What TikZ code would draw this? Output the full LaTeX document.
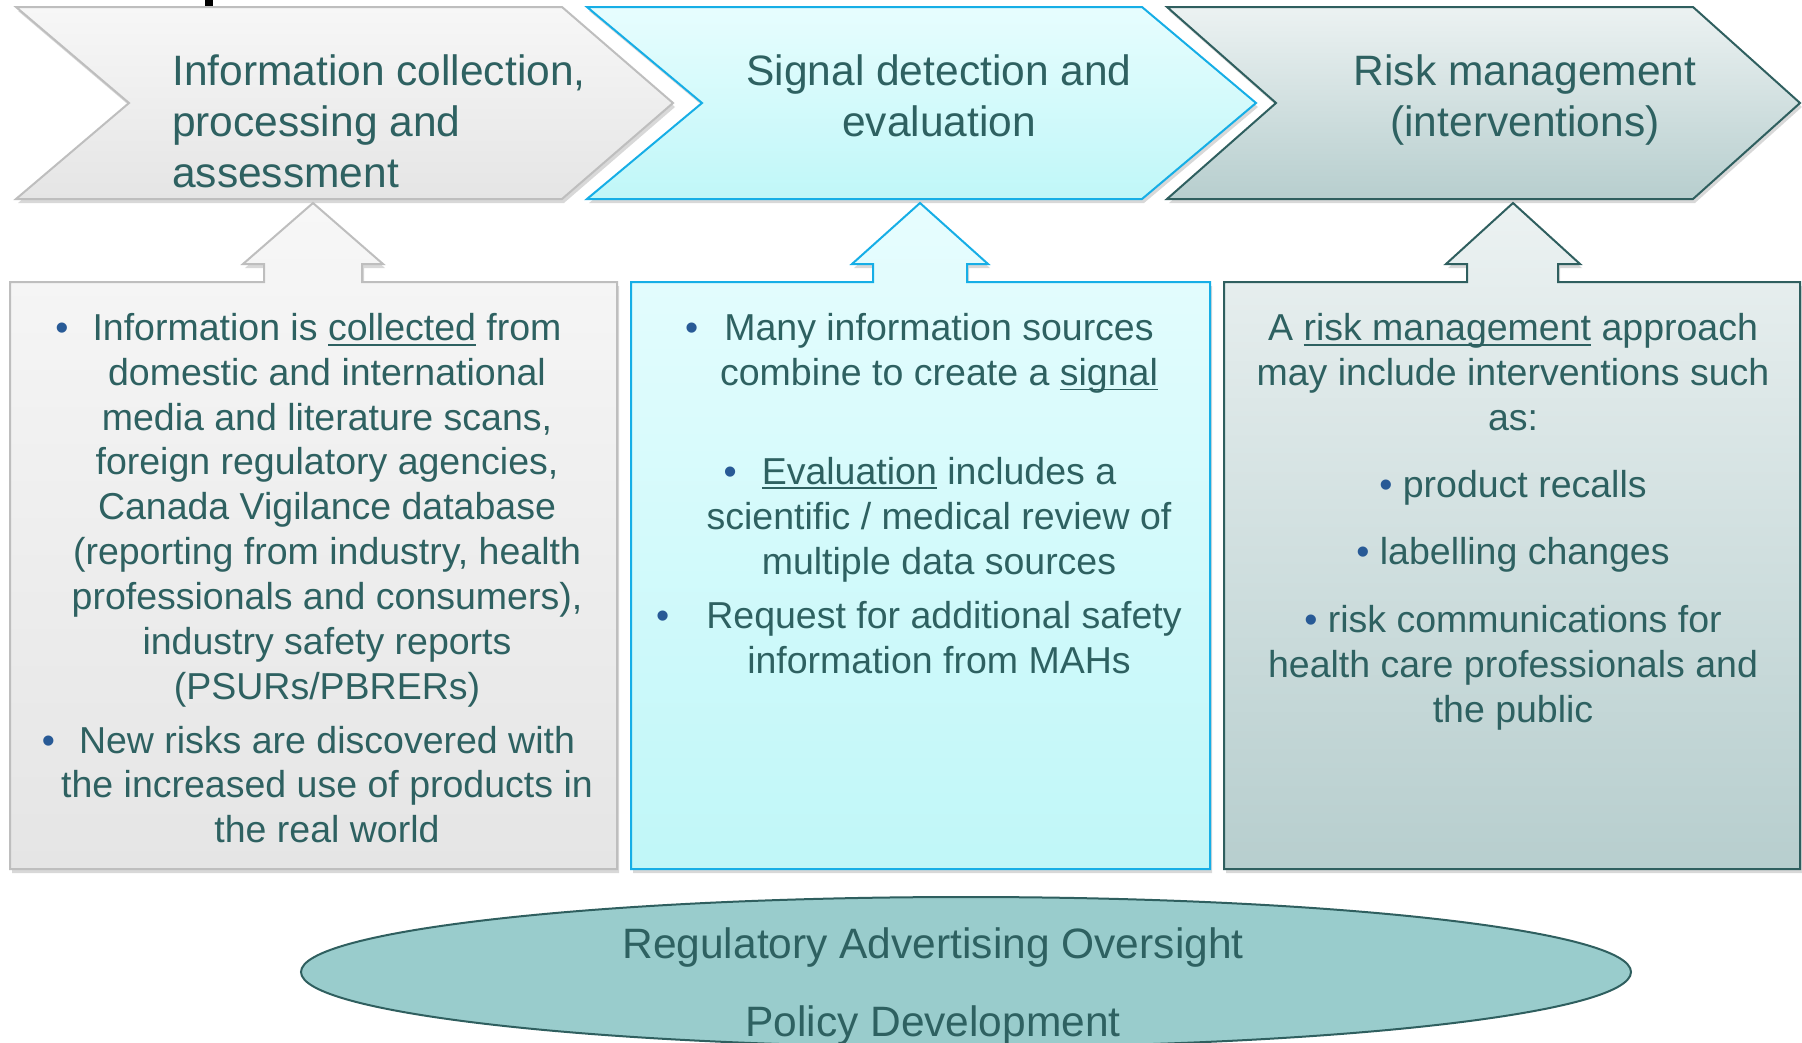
\documentclass[tikz,border=0pt]{standalone}
\usepackage{fontspec}
\setmainfont{Liberation Sans}
\usetikzlibrary{shadows}
\definecolor{txt}{RGB}{46,97,97}
\definecolor{bulc}{RGB}{40,90,150}
\definecolor{cAt}{RGB}{247,247,247}
\definecolor{cAb}{RGB}{229,229,229}
\definecolor{cAd}{RGB}{190,190,190}
\definecolor{cBt}{RGB}{231,253,254}
\definecolor{cBb}{RGB}{192,247,248}
\definecolor{cBd}{RGB}{22,174,230}
\definecolor{cCt}{RGB}{236,242,242}
\definecolor{cCb}{RGB}{183,206,206}
\definecolor{cCd}{RGB}{47,95,95}
\definecolor{ellf}{RGB}{153,204,204}
\newsavebox\ulbox
\newcommand\myul[1]{\sbox\ulbox{#1}\rlap{\rule[-5pt]{\wd\ulbox}{1.6pt}}\usebox\ulbox}
\newcommand\bulpt[1]{\llap{{\color{bulc}•}\hspace{#1pt}}}
\tikzset{
  titletext/.style={font=\fontsize{42.5}{51}\selectfont, text=txt, inner sep=0pt, anchor=base},
  bodytext/.style={font=\fontsize{37.5}{45}\selectfont, text=txt, inner sep=0pt, anchor=base},
  shad/.style={drop shadow={shadow xshift=2pt,shadow yshift=-4pt,opacity=0.3}},
  shapeA/.style={shad, draw=cAd, line width=2pt, top color=cAt, bottom color=cAb},
  shapeB/.style={shad, draw=cBd, line width=2pt, top color=cBt, bottom color=cBb},
  shapeC/.style={shad, draw=cCd, line width=2pt, top color=cCt, bottom color=cCb},
}
\begin{document}
\begin{tikzpicture}[x=1pt,y=-1pt]
\useasboundingbox (0,0) rectangle (1802,1042);
\fill[white] (0,0) rectangle (1802,1042);
% cut-off title fragment
\fill[black] (205,0) rectangle (213,9);
% chevrons
\path[shapeA] (16,7) -- (562,7) -- (673,103) -- (562,199) -- (16,199) -- (129,103) -- cycle;
\path[shapeB] (587,7) -- (1142,7) -- (1256,103) -- (1142,199) -- (587,199) -- (702,103) -- cycle;
\path[shapeC] (1167,7) -- (1693,7) -- (1800,103) -- (1693,199) -- (1167,199) -- (1276,103) -- cycle;
% boxes with up arrows
\path[shapeA] (10,282) -- (264,282) -- (264,264) -- (243,264) -- (313,203) -- (383,264) -- (362,264) -- (362,282) -- (617,282) -- (617,869) -- (10,869) -- cycle;
\path[shapeB] (631,282) -- (873,282) -- (873,264) -- (852,264) -- (920,203) -- (988,264) -- (967,264) -- (967,282) -- (1210,282) -- (1210,869) -- (631,869) -- cycle;
\path[shapeC] (1224,282) -- (1467,282) -- (1467,264) -- (1446,264) -- (1513,203) -- (1580,264) -- (1558,264) -- (1558,282) -- (1800,282) -- (1800,869) -- (1224,869) -- cycle;
% ellipse
\path[draw=cCd, line width=2pt, fill=ellf] (966,972) ellipse [x radius=665, y radius=75];
% titles
\node[titletext, anchor=base west] (t1a) at (172,85.5) {Information collection,};
\node[titletext, anchor=base west] (t1b) at (172,136.5) {processing and};
\node[titletext, anchor=base west] (t1c) at (172,187.5) {assessment};
\node[titletext] (t2a) at (939,85.5) {Signal detection and};
\node[titletext] (t2b) at (939,136.5) {evaluation};
\node[titletext] (t3a) at (1525,85.5) {Risk management};
\node[titletext] (t3b) at (1525,136.5) {(interventions)};
% box 1
\node[bodytext] (a1) at (327,340.5) {\bulpt{24}Information is \myul{collected} from};
\node[bodytext] (a2) at (327,385.3) {domestic and international};
\node[bodytext] (a3) at (327,430.1) {media and literature scans,};
\node[bodytext] (a4) at (327,474.9) {foreign regulatory agencies,};
\node[bodytext] (a5) at (327,519.7) {Canada Vigilance database};
\node[bodytext] (a6) at (327,564.5) {(reporting from industry, health};
\node[bodytext] (a7) at (327,609.3) {professionals and consumers),};
\node[bodytext] (a8) at (327,654.1) {industry safety reports};
\node[bodytext] (a9) at (327,699) {(PSURs/PBRERs)};
\node[bodytext] (a10) at (327,753) {\bulpt{24}New risks are discovered with};
\node[bodytext] (a11) at (327,797.8) {the increased use of products in};
\node[bodytext] (a12) at (327,842.6) {the real world};
% box 2
\node[bodytext] (b1) at (939,340.5) {\bulpt{26}Many information sources};
\node[bodytext] (b2) at (939,385.3) {combine to create a \myul{signal}};
\node[bodytext] (b3) at (939,484) {\bulpt{25}\myul{Evaluation} includes a};
\node[bodytext] (b4) at (939,529) {scientific / medical review of};
\node[bodytext] (b5) at (939,574) {multiple data sources};
\node[bodytext] (b6) at (944,628) {\bulpt{37}Request for additional safety};
\node[bodytext] (b7) at (939,673) {information from MAHs};
% box 3
\node[bodytext] (c1) at (1513,340.5) {A \myul{risk management} approach};
\node[bodytext] (c2) at (1513,385.3) {may include interventions such};
\node[bodytext] (c3) at (1513,430.1) {as:};
\node[bodytext] (c4) at (1513,497) {{\color{bulc}•}~product recalls};
\node[bodytext] (c5) at (1513,564.5) {{\color{bulc}•}~labelling changes};
\node[bodytext] (c6) at (1513,632) {{\color{bulc}•}~risk communications for};
\node[bodytext] (c7) at (1513,677) {health care professionals and};
\node[bodytext] (c8) at (1513,722) {the public};
% ellipse text
\node[titletext] (e1) at (933,958) {Regulatory Advertising Oversight};
\node[titletext] (e2) at (933,1036) {Policy Development};
\end{tikzpicture}
\end{document}
